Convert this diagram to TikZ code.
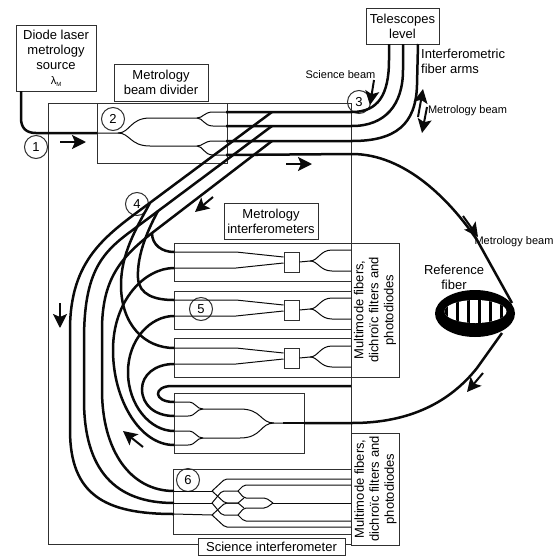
\documentclass[tikz,border=0pt]{standalone}
\usepackage{xcolor}
\usepackage{fontspec}
\setmainfont{Liberation Sans}
\usepackage{tikz}
\usetikzlibrary{positioning,arrows.meta,shapes.geometric,calc}
\definecolor{boxline}{HTML}{303030}
\definecolor{fiberink}{HTML}{0A0A0A}
\tikzset{
    labelbox/.style={
        draw=boxline, fill=white, line width=1pt, inner sep=0pt,
        font=\fontsize{13}{15}\selectfont, align=center
    },
    regionbox/.style={
        draw=boxline, line width=1pt, inner sep=0pt
    },
    mergebox/.style={
        draw=boxline, fill=white, line width=1pt, inner sep=0pt,
        minimum width=15pt, minimum height=20pt
    },
    numbermark/.style={
        draw=boxline, circle, line width=1pt, inner sep=0pt, minimum size=23pt,
        font=\fontsize{13}{15}\selectfont
    },
    plainlabel/.style={
        inner sep=0pt, font=\fontsize{13}{15}\selectfont, align=center
    },
    beamlabel/.style={
        inner sep=0pt, font=\fontsize{11}{13}\selectfont
    },
    fiber/.style={draw=fiberink, line width=2.5pt},
    thinfiber/.style={draw=fiberink, line width=1pt},
    beamarrow/.style={-{Stealth[length=14pt,width=14pt,inset=3pt]}, draw=fiberink, line width=2pt},
}

\begin{document}
\begin{tikzpicture}[x=1pt, y=-1pt]
    \useasboundingbox (0,0) rectangle (560,555);
    % regions
    \node[regionbox, minimum width=303pt, minimum height=441pt] (sciframe) at (199.5,323.5) {};
    \node[regionbox, minimum width=130pt, minimum height=60pt] (divider) at (162,133) {};
    \node[regionbox, minimum width=177pt, minimum height=38pt] (interA) at (262.5,262) {};
    \node[regionbox, minimum width=177pt, minimum height=38pt] (interB) at (262.5,310) {};
    \node[regionbox, minimum width=177pt, minimum height=39pt] (interC) at (262.5,357.5) {};
    \node[regionbox, minimum width=130pt, minimum height=60pt] (combiner) at (239,423) {};
    \node[regionbox, minimum width=178pt, minimum height=65pt] (scibox) at (262,501.5) {};

    % labels
    \node[labelbox, minimum width=80pt, minimum height=66pt] (source) at (56,58) {Diode laser\\metrology\\source\\\fontsize{11}{11}\selectfont λ\raisebox{-2pt}{\fontsize{6}{6}\selectfont M}};
    \node[labelbox, minimum width=94pt, minimum height=37pt] (dividerlabel) at (161,82.5) {Metrology\\beam divider};
    \node[labelbox, minimum width=73pt, minimum height=36pt] (telescopes) at (402.5,26) {Telescopes\\level};
    \node[labelbox, minimum width=94pt, minimum height=36pt] (interlabel) at (271,221) {Metrology\\interferometers};
    \node[labelbox, minimum width=147pt, minimum height=17pt] (scilabel) at (271.5,546.5) {Science interferometer};
    \node[labelbox, rotate=90, minimum width=134pt, minimum height=48pt] (mmupper) at (375,310) {Multimode fibers,\\dichroïc filters and\\photodiodes};
    \node[labelbox, rotate=90, minimum width=112pt, minimum height=48pt] (mmlower) at (375.5,489) {Multimode fibers,\\dichroïc filters and\\photodiodes};
    \node[plainlabel, anchor=west, align=left] (armslabel) at (421,61) {Interferometric\\fiber arms};
    \node[plainlabel] (reflabel) at (454,277) {Reference\\fiber};
    \node[beamlabel] (sciencebeam) at (340.5,75) {Science beam};
    \node[beamlabel] (metrobeamA) at (467.5,111) {Metrology beam};
    \node[beamlabel] (metrobeamB) at (514,242) {Metrology beam};

    % numbered marks
    \node[numbermark] (markA) at (36,147) {1};
    \node[numbermark] (markB) at (113,119) {2};
    \node[numbermark] (markC) at (359,102) {3};
    \node[numbermark] (markD) at (137,204) {4};
    \node[numbermark] (markE) at (201,309) {5};
    \node[numbermark] (markF) at (188,480) {6};

    % fiber ports
    \coordinate (inS) at (21,91);
    \coordinate (arcin) at (97,133);
    \coordinate (splitU) at (197,118);
    \coordinate (splitL) at (197,146);
    \coordinate (outA) at (226,112);
    \coordinate (outB) at (226,126);
    \coordinate (outC) at (226,141);
    \coordinate (outD) at (226,155);
    \coordinate (teleA) at (389,44);
    \coordinate (teleB) at (403,44);
    \coordinate (teleC) at (418,44);
    \coordinate (ringT) at (512,303);
    \coordinate (ringB) at (502,333);
    \coordinate (mixU) at (203,409);
    \coordinate (mixL) at (203,438);
    \coordinate (mixO) at (283,423);
    \coordinate (combO) at (304,423);
    \coordinate (sciA) at (174,491);
    \coordinate (sciB) at (174,503);
    \coordinate (sciC) at (174,514);
    \coordinate (jA) at (212,491);
    \coordinate (jB) at (212,503);
    \coordinate (jC) at (212,515);
    \coordinate (kA) at (238,491);
    \coordinate (kB) at (238,503);
    \coordinate (kC) at (238,515);
    \coordinate (kO) at (273,503);

    % beam divider
    \draw[thinfiber] (arcin) -- (118,133) .. controls (130,133) and (130,118) .. (150,118) -- (splitU);
    \draw[thinfiber] (118,133) .. controls (130,133) and (130,146) .. (150,146) -- (splitL);
    \draw[thinfiber] (splitU) .. controls (203,118) and (204,112) .. (213,112) -- (outA);
    \draw[thinfiber] (splitU) .. controls (203,118) and (204,126) .. (213,126) -- (outB);
    \draw[thinfiber] (splitL) .. controls (203,146) and (204,141) .. (213,141) -- (outC);
    \draw[thinfiber] (splitL) .. controls (203,146) and (204,155) .. (213,155) -- (outD);

    % metrology interferometers
    \node[mergebox] (mergeA) at (291.5,262) {};
    \node[mergebox] (mergeB) at (291.5,310) {};
    \node[mergebox] (mergeC) at (291.5,358) {};
    \draw[thinfiber] (174,252) -- (236,252) -- (mergeA.west |- 0,257);
    \draw[thinfiber] (174,268) -- (236,268) -- (mergeA.west |- 0,263);
    \draw[thinfiber] (mergeA.east) -- (310,261) .. controls (318,261) and (320,250) .. (332,250) -- (351,250);
    \draw[thinfiber] (310,261) .. controls (318,261) and (320,271) .. (332,271) -- (351,271);
    \draw[thinfiber] (174,300) -- (236,300) -- (mergeB.west |- 0,305);
    \draw[thinfiber] (174,316) -- (236,316) -- (mergeB.west |- 0,311);
    \draw[thinfiber] (mergeB.east) -- (310,309) .. controls (318,309) and (320,298) .. (332,298) -- (351,298);
    \draw[thinfiber] (310,309) .. controls (318,309) and (320,319) .. (332,319) -- (351,319);
    \draw[thinfiber] (174,348) -- (236,348) -- (mergeC.west |- 0,353);
    \draw[thinfiber] (174,364) -- (236,364) -- (mergeC.west |- 0,359);
    \draw[thinfiber] (mergeC.east) -- (310,357) .. controls (318,357) and (320,346) .. (332,346) -- (351,346);
    \draw[thinfiber] (310,357) .. controls (318,357) and (320,367) .. (332,367) -- (351,367);

    % metrology combiner
    \draw[thinfiber] (174,402) -- (188,402) .. controls (196,402) and (196,409) .. (mixU);
    \draw[thinfiber] (174,416) -- (188,416) .. controls (196,416) and (196,409) .. (mixU);
    \draw[thinfiber] (174,431) -- (188,431) .. controls (196,431) and (196,438) .. (mixL);
    \draw[thinfiber] (174,445) -- (188,445) .. controls (196,445) and (196,438) .. (mixL);
    \draw[thinfiber] (mixU) -- (240,409) .. controls (262,409) and (260,423) .. (274,423) -- (mixO);
    \draw[thinfiber] (mixL) -- (240,438) .. controls (262,438) and (260,423) .. (274,423);
    \draw[line width=1.8pt, draw=fiberink] (mixO) -- (combO);

    % science combiner
    \draw[thinfiber] (sciA) -- (jA);
    \draw[thinfiber] (sciB) -- (jB);
    \draw[thinfiber] (sciC) -- (jC);
    \draw[thinfiber, rounded corners=2pt] (jA) -- (225,479) -- (351,479);
    \draw[thinfiber, rounded corners=2pt] (jC) -- (225,527) -- (351,527);
    \draw[thinfiber, rounded corners=2pt] (jB) -- (222,491) -- (kA);
    \draw[thinfiber, rounded corners=2pt] (jB) -- (222,515) -- (kC);
    \draw[thinfiber, rounded corners=2pt] (jA) -- (225,503) -- (kB);
    \draw[thinfiber, rounded corners=2pt] (jC) -- (225,503) -- (kB);
    \draw[thinfiber, rounded corners=2pt] (kA) -- (244,485) -- (351,485);
    \draw[thinfiber, rounded corners=2pt] (kC) -- (244,521) -- (351,521);
    \draw[thinfiber, rounded corners=2pt] (kA) -- (244,498) -- (266,498) -- (kO);
    \draw[thinfiber] (kB) -- (244,498);
    \draw[thinfiber] (kB) -- (244,508);
    \draw[thinfiber, rounded corners=2pt] (kC) -- (244,508) -- (266,508) -- (kO);
    \draw[thinfiber] (kO) -- (351,503);

    % fibers
    \draw[fiber] (inS) -- (21,118) .. controls (21,128) and (26,133) .. (36,133) -- (arcin);
    \draw[fiber] (outA) -- (352,112) .. controls (378,112) and (389,95) .. (389,60) -- (teleA);
    \draw[fiber] (outB) -- (352,126) .. controls (385,126) and (403,105) .. (403,70) -- (teleB);
    \draw[fiber] (outC) -- (352,141) .. controls (395,141) and (416,125) .. (417,85) -- (teleC);
    \draw[fiber] (outD) -- (352,154) .. controls (405,154) and (450,200) .. (477,240) -- (ringT);
    \draw[fiber] (ringB) -- (477,368) .. controls (450,402) and (410,423) .. (352,423) -- (combO);
    \draw[fiber] (272,112) -- (147,205) .. controls (105,236) and (70,260) .. (70,330) -- (70,430) .. controls (70,495) and (105,514) .. (sciC);
    \draw[fiber] (272,126) -- (130,232) .. controls (100,254) and (84,275) .. (84,340) -- (84,400) .. controls (84,470) and (115,503) .. (sciB);
    \draw[fiber] (272,141) -- (152,233) .. controls (120,258) and (102,280) .. (102,330) -- (102,390) .. controls (102,450) and (130,491) .. (sciA);
    \draw[fiber] (150,203) .. controls (135,230) and (121,255) .. (121,285) .. controls (121,325) and (145,348) .. (174,348);
    \draw[fiber] (158,211) .. controls (145,235) and (137,258) .. (138,278) .. controls (139,295) and (155,300) .. (174,300);
    \draw[fiber] (152,233) .. controls (152,245) and (162,252) .. (174,252);
    \draw[fiber] (174,268) .. controls (145,268) and (113,300) .. (113,350) .. controls (113,400) and (140,445) .. (174,445);
    \draw[fiber] (174,316) .. controls (150,316) and (128,340) .. (128,372) .. controls (128,405) and (150,431) .. (174,431);
    \draw[fiber] (174,364) .. controls (155,364) and (142,375) .. (142,389) .. controls (142,405) and (155,416) .. (174,416);
    \draw[fiber] (174,402) .. controls (153,402) and (153,386) .. (172,386) -- (351,386);

    % reference fiber
    \node[ellipse, fill=black, inner sep=0pt, minimum width=80pt, minimum height=47pt] (ring) at (475,313.5) {};
    \node[ellipse, fill=white, inner sep=0pt, minimum width=62pt, minimum height=23pt] (ringcore) at (475.5,311.5) {};
    \begin{scope}
        \clip (475.5,311.5) ellipse [x radius=31pt, y radius=11.5pt];
        \foreach \barx in {446,457,468,479,490,501}
            \draw[line width=3pt, draw=black] (\barx,298) -- (\barx,326);
    \end{scope}

    % beam arrows
    \coordinate (arrowAs) at (60,142);   \coordinate (arrowAe) at (86,142);
    \coordinate (arrowBs) at (213,197);  \coordinate (arrowBe) at (195,212);
    \coordinate (arrowCs) at (286,164);  \coordinate (arrowCe) at (312,164);
    \coordinate (arrowDs) at (374,80);   \coordinate (arrowDe) at (370,105);
    \coordinate (arrowEs) at (418,117);  \coordinate (arrowEe) at (423,89);
    \coordinate (arrowFs) at (427,107);  \coordinate (arrowFe) at (422,133);
    \coordinate (arrowGs) at (463,216);  \coordinate (arrowGe) at (478,237);
    \coordinate (arrowHs) at (483,373);  \coordinate (arrowHe) at (467,392);
    \coordinate (arrowIs) at (60,303);   \coordinate (arrowIe) at (60,328);
    \coordinate (arrowJs) at (143,447);  \coordinate (arrowJe) at (123,431);
    \draw[beamarrow] (arrowAs) -- (arrowAe);
    \draw[beamarrow] (arrowBs) -- (arrowBe);
    \draw[beamarrow] (arrowCs) -- (arrowCe);
    \draw[beamarrow] (arrowDs) -- (arrowDe);
    \draw[beamarrow] (arrowEs) -- (arrowEe);
    \draw[beamarrow] (arrowFs) -- (arrowFe);
    \draw[beamarrow] (arrowGs) -- (arrowGe);
    \draw[beamarrow] (arrowHs) -- (arrowHe);
    \draw[beamarrow] (arrowIs) -- (arrowIe);
    \draw[beamarrow] (arrowJs) -- (arrowJe);
\end{tikzpicture}
\end{document}
